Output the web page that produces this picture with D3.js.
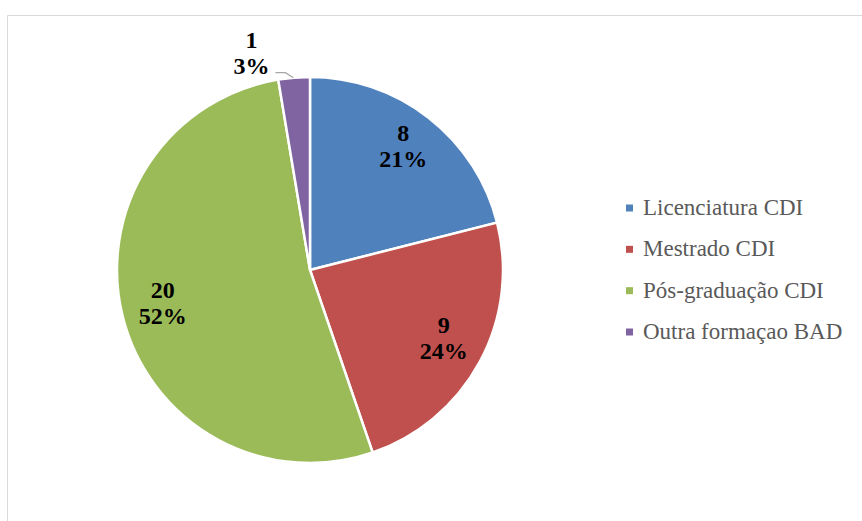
<!DOCTYPE html>
<html>
<head>
<meta charset="utf-8">
<script src="https://cdn.jsdelivr.net/npm/d3@7"></script>
<style>
  body { margin: 0; background: #fff; }
  .slice-label { font-family: "Times New Roman", "Liberation Serif", "DejaVu Serif", serif; font-weight: bold; font-size: 24px; fill: #000; }
  .legend-text { font-family: "Times New Roman", "Liberation Serif", "DejaVu Serif", serif; font-size: 23px; fill: #595959; }
</style>
</head>
<body>
<div id="chart"></div>
<script>

// data
var categories = ["Licenciatura CDI", "Mestrado CDI", "Pós-graduação CDI", "Outra formaçao BAD"];
var values = [8, 9, 20, 1];
var percentLabels = ["21%", "24%", "52%", "3%"];
var colors = ["#4F81BD", "#C0504D", "#9BBB59", "#8064A2"];

var width = 862, height = 521;
var cx = 310, cy = 270, radius = 193;

var svg = d3.select("#chart").append("svg")
    .attr("width", width)
    .attr("height", height);

// chart frame (cut off right and bottom, like the original)
svg.append("path")
    .attr("d", "M7.5," + height + "V15.5H" + width)
    .attr("fill", "none")
    .attr("stroke", "#d9d9d9")
    .attr("stroke-width", 1);

var rows = categories.map(function(c, i) {
    return { name: c, value: values[i], pct: percentLabels[i], color: colors[i] };
});

var pie = d3.pie()
    .sort(null)
    .value(function(d) { return d.value; });

var arc = d3.arc().innerRadius(0).outerRadius(radius);
var labelArc = d3.arc().innerRadius(152).outerRadius(152);
var outerArc = d3.arc().innerRadius(radius + 8).outerRadius(radius + 8);

var g = svg.append("g")
    .attr("transform", "translate(" + cx + "," + cy + ")");

var arcs = pie(rows);

g.selectAll("path.slice")
    .data(arcs)
    .enter()
    .append("path")
    .attr("class", "slice")
    .attr("d", arc)
    .attr("fill", function(d) { return d.data.color; })
    .attr("stroke", "#fff")
    .attr("stroke-width", 2.5);

// labels: large slices inside, tiny slice outside with leader line
arcs.forEach(function(d) {
    var small = (d.endAngle - d.startAngle) < 0.3;
    var p;
    if (small) {
        var o = outerArc.centroid(d);
        p = [o[0] - 42, o[1] - 13];
        g.append("polyline")
            .attr("points", [[o[0], o[1] + 8], [o[0] - 8, o[1] + 3], [o[0] - 18, o[1] + 3]].map(function(q) { return q.join(","); }).join(" "))
            .attr("fill", "none")
            .attr("stroke", "#a6a6a6")
            .attr("stroke-width", 1.3);
    } else {
        p = labelArc.centroid(d);
    }
    var t = g.append("text")
        .attr("class", "slice-label")
        .attr("text-anchor", "middle")
        .attr("x", p[0])
        .attr("y", p[1]);
    t.append("tspan").attr("x", p[0]).attr("dy", -9).text(d.data.value);
    t.append("tspan").attr("x", p[0]).attr("dy", 26).text(d.data.pct);
});

// legend
var legendY = d3.scalePoint()
    .domain(categories)
    .range([208, 332]);

var legend = svg.append("g")
    .selectAll("g")
    .data(rows)
    .enter()
    .append("g")
    .attr("transform", function(d) { return "translate(626," + legendY(d.name) + ")"; });

legend.append("rect")
    .attr("x", 0)
    .attr("y", -3.5)
    .attr("width", 7)
    .attr("height", 7)
    .attr("fill", function(d) { return d.color; });

legend.append("text")
    .attr("class", "legend-text")
    .attr("x", 17)
    .attr("y", 7)
    .text(function(d) { return d.name; });

</script>
</body>
</html>
